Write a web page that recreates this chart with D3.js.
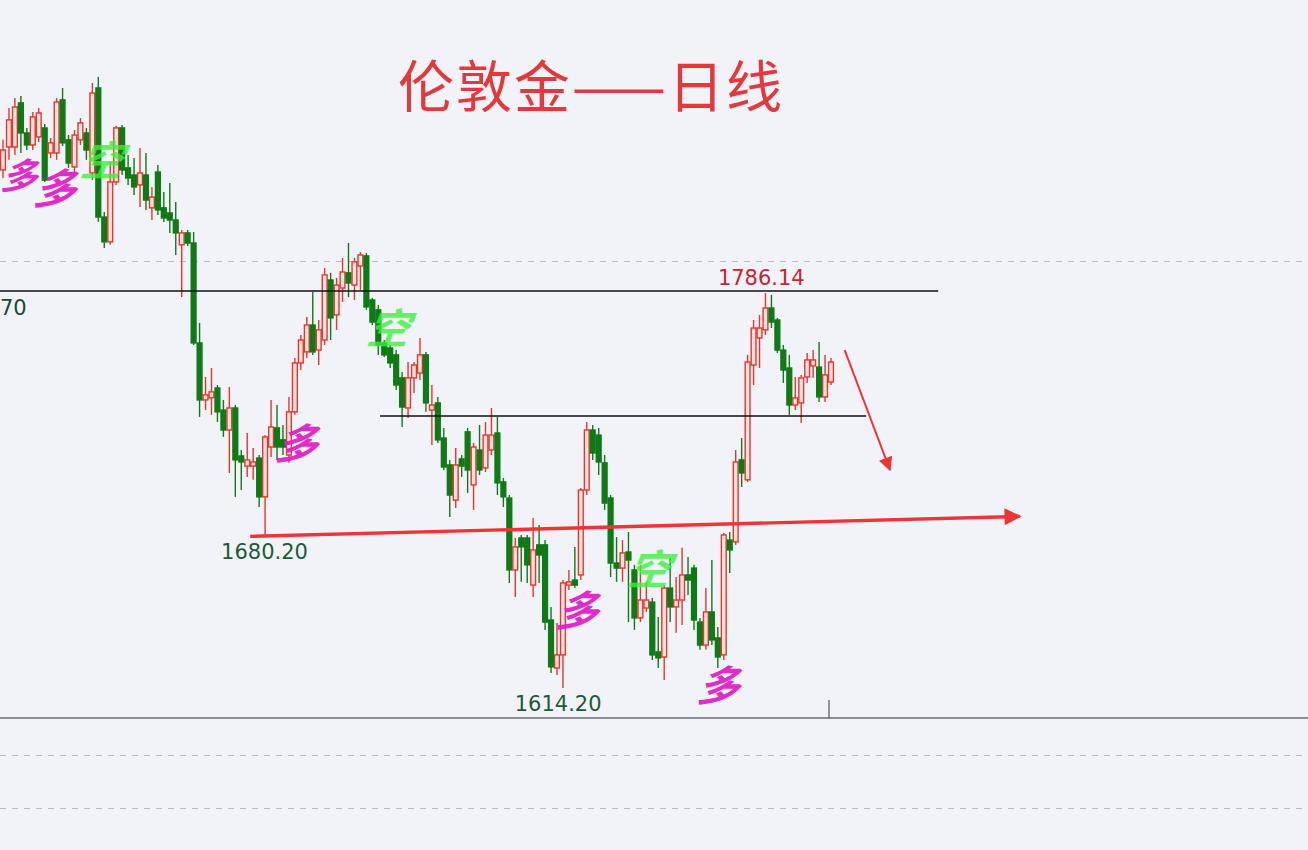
<!DOCTYPE html>
<html><head><meta charset="utf-8">
<script src="https://cdn.jsdelivr.net/npm/d3@7"></script>
<style>html,body{margin:0;padding:0;background:#f1f3f9;overflow:hidden}svg{display:block}</style>
</head><body><svg id="c" width="1308" height="850"></svg>
<script>
// ---- data (London gold daily) ----
const opens = [
1839.7,1849.7,1849.7,1868.9,1855.8,1850.6,1854.1,1858.0,1847.1,1847.1,
1870.2,1852.8,1841.0,1852.8,1855.8,1838.4,1875.4,1819.2,1808.4,1834.5,
1858.0,1840.6,1837.5,1833.2,1837.5,1823.2,1838.8,1823.2,1821.0,1817.9,
1807.1,1812.3,1807.9,1764.4,1739.6,1740.5,1744.8,1735.2,1726.5,1736.1,
1715.2,1710.8,1710.8,1714.3,1697.4,1719.1,1727.4,1722.2,1715.6,1734.4,
1755.7,1760.5,1772.2,1761.3,1765.7,1791.8,1776.6,1788.3,1794.9,1789.6,
1797.9,1802.3,1783.1,1778.8,1764.4,1762.2,1759.2,1749.2,1736.1,1749.2,
1751.3,1759.2,1735.2,1738.3,1723.0,1711.3,1696.0,1713.9,1725.7,1702.6,
1717.8,1710.0,1717.8,1725.2,1703.9,1696.9,1665.6,1679.5,1679.5,1659.0,
1676.5,1676.5,1643.8,1622.9,1628.6,1659.0,1661.2,1663.4,1700.4,1726.5,
1724.3,1712.2,1696.9,1668.6,1666.4,1673.4,1665.6,1644.7,1649.0,1651.6,
1629.9,1627.7,1657.7,1649.5,1652.5,1663.4,1666.4,1642.9,1632.9,1647.3,
1636.0,1628.6,1678.6,1677.8,1713.5,1704.8,1754.8,1766.6,1770.1,1779.6,
1774.4,1761.3,1753.5,1737.4,1738.3,1749.6,1754.4,1753.9,1740.9,1747.4];
const closes = [
1848.4,1861.5,1867.1,1855.8,1850.6,1862.8,1864.5,1835.3,1851.5,1869.3,
1851.5,1842.7,1854.9,1860.2,1848.4,1873.2,1819.2,1808.4,1834.5,1858.0,
1839.7,1836.2,1832.3,1838.4,1826.6,1827.9,1822.3,1818.8,1817.9,1812.3,
1812.3,1807.9,1764.4,1739.6,1741.8,1743.1,1734.4,1726.5,1736.1,1713.5,
1712.6,1713.5,1712.6,1697.4,1723.5,1727.8,1719.1,1719.1,1734.4,1755.7,
1765.7,1772.2,1760.5,1770.1,1794.0,1775.3,1789.6,1795.3,1790.5,1799.7,
1802.7,1780.1,1773.5,1763.5,1759.2,1755.7,1746.1,1736.5,1749.2,1754.8,
1759.2,1738.3,1737.4,1722.2,1710.4,1698.2,1711.3,1710.8,1709.1,1719.1,
1709.1,1724.3,1724.3,1703.5,1697.4,1665.6,1675.6,1675.6,1667.8,1674.3,
1672.1,1642.9,1623.4,1628.6,1659.9,1660.4,1659.0,1700.4,1726.5,1716.5,
1712.6,1694.7,1668.6,1666.4,1673.0,1669.9,1644.7,1652.5,1652.5,1628.6,
1627.3,1657.7,1649.5,1652.5,1663.4,1661.2,1643.8,1632.9,1647.3,1635.1,
1627.7,1680.8,1674.3,1712.6,1707.8,1756.1,1770.9,1770.9,1779.6,1773.5,
1761.3,1752.6,1737.4,1740.5,1749.2,1757.0,1757.0,1740.9,1750.5,1756.1];
const highs = [
1852.8,1866.7,1871.0,1871.9,1858.0,1864.9,1866.7,1859.7,1853.6,1871.0,
1875.4,1854.9,1857.1,1862.3,1858.0,1877.6,1880.2,1821.4,1843.2,1858.9,
1859.3,1846.2,1844.9,1849.3,1847.1,1832.3,1841.9,1830.1,1834.0,1825.8,
1813.6,1813.6,1812.7,1773.1,1749.6,1753.5,1746.1,1739.6,1745.2,1737.4,
1717.8,1725.2,1718.7,1715.6,1724.3,1739.6,1737.4,1728.7,1740.9,1757.9,
1767.9,1775.7,1786.6,1774.4,1797.0,1794.9,1792.7,1801.4,1807.9,1801.4,
1804.0,1803.6,1784.0,1780.9,1765.7,1763.5,1761.3,1751.8,1756.1,1756.1,
1766.6,1760.5,1746.1,1740.9,1727.4,1713.5,1718.7,1715.6,1727.4,1720.9,
1728.7,1730.0,1736.1,1732.2,1705.6,1698.2,1679.5,1680.8,1680.8,1688.2,
1685.2,1678.6,1649.5,1642.5,1661.2,1665.6,1675.6,1701.3,1730.0,1728.7,
1727.4,1715.6,1698.2,1679.9,1678.6,1682.1,1667.8,1667.8,1660.4,1653.4,
1645.1,1659.0,1670.8,1662.5,1675.2,1671.2,1667.8,1644.7,1657.7,1669.9,
1640.8,1681.7,1682.1,1717.8,1723.0,1759.2,1774.4,1776.6,1786.14,1785.3,
1775.3,1763.5,1759.2,1749.6,1750.5,1760.0,1761.3,1764.8,1759.2,1757.9];
const lows = [
1836.2,1844.1,1846.2,1847.1,1848.4,1848.4,1851.9,1834.5,1844.9,1844.1,
1850.1,1840.6,1837.5,1850.6,1844.1,1835.3,1817.1,1805.7,1807.1,1833.2,
1837.5,1833.2,1828.8,1823.6,1822.3,1817.9,1820.1,1817.1,1812.3,1802.7,
1784.4,1806.6,1763.5,1732.2,1735.2,1733.1,1730.0,1723.5,1707.8,1697.4,
1700.4,1706.1,1704.8,1693.0,1680.2,1714.8,1713.5,1715.6,1712.2,1733.1,
1752.6,1757.9,1759.2,1754.8,1763.5,1765.7,1770.1,1782.2,1784.4,1783.1,
1787.5,1778.8,1772.2,1759.2,1758.3,1753.5,1743.9,1727.8,1731.7,1742.6,
1748.3,1734.4,1720.0,1720.9,1709.1,1688.6,1692.6,1706.1,1699.1,1691.7,
1706.9,1708.2,1715.6,1698.2,1693.0,1659.9,1653.8,1660.4,1659.9,1653.8,
1659.9,1639.5,1620.7,1619.9,1614.2,1656.9,1657.7,1661.2,1698.2,1713.5,
1706.9,1691.7,1662.5,1660.4,1660.4,1642.9,1639.5,1642.9,1647.3,1626.4,
1622.9,1617.7,1642.9,1638.2,1641.6,1654.7,1639.5,1630.8,1630.8,1632.9,
1622.9,1626.4,1664.3,1676.5,1701.7,1703.9,1746.1,1753.5,1767.9,1770.9,
1760.0,1747.0,1733.1,1735.2,1729.6,1747.0,1749.2,1738.7,1738.7,1746.1];

const title = "伦敦金——日线";
const priceLabels = [
  {text:"1786.14", idx:127.3, price:1786.14, pos:"above", color:"#c3262f"},
  {text:"1680.20", idx:43.9, price:1680.20, pos:"below", color:"#1e5a36"},
  {text:"1614.20", idx:93.2, price:1614.20, pos:"below", color:"#1e5a36"}
];
const resistance = {price:1787.0, from:-1, to:157};
const support = {price:1732.6, from:63.3, to:144.9};
const trendArrow = {from:[41.5,1680.2], to:[170.7,1688.9]};
const downArrow = {from:[141.3,1761.3], to:[148.9,1709.1]};
const gridPrices = [1800];
const signals = [
  {t:"多", idx:2.9, price:1838.5, c:"long", s:36},
  {t:"多", idx:8.9, price:1833, c:"long", s:42},
  {t:"空", idx:16.7, price:1845, c:"short", s:42},
  {t:"多", idx:49.5, price:1722, c:"long", s:42},
  {t:"空", idx:64.8, price:1772, c:"short", s:42},
  {t:"多", idx:96.6, price:1649, c:"long", s:42},
  {t:"空", idx:108.6, price:1667, c:"short", s:42},
  {t:"多", idx:120.3, price:1616.5, c:"long", s:42}
];

// ---- drawing ----
const W = 1308, H = 850;
const svg = d3.select("#c");
const bg = "#f1f3f9";
svg.append("rect").attr("width", W).attr("height", H).attr("fill", bg);

const N = opens.length;
const x = d3.scaleLinear().domain([0, N - 1]).range([3, 831]);
const y = d3.scaleLinear().domain([1614.2, 1786.14]).range([688, 293]);

const RED = "#e8342a", GREEN = "#0f7a16";

// grid (dashed)
svg.selectAll("line.grid").data(gridPrices).enter().append("line")
  .attr("x1", 0).attr("x2", W).attr("y1", d => Math.round(y(d)) + 0.5).attr("y2", d => Math.round(y(d)) + 0.5)
  .attr("stroke", "#b8bcc6").attr("stroke-width", 1.2).attr("stroke-dasharray", "6,6");

// lower panel
const axisY = 718;
svg.append("line").attr("x1", 0).attr("x2", W).attr("y1", axisY).attr("y2", axisY)
  .attr("stroke", "#6a6d74").attr("stroke-width", 1.6);
svg.append("line").attr("x1", 829).attr("x2", 829).attr("y1", 700).attr("y2", axisY)
  .attr("stroke", "#555").attr("stroke-width", 1.2);
[755, 808].forEach(v => svg.append("line").attr("x1", 0).attr("x2", W).attr("y1", v + 0.5).attr("y2", v + 0.5)
  .attr("stroke", "#b8bcc6").attr("stroke-width", 1.2).attr("stroke-dasharray", "6,6"));

// candles
const data = d3.range(N).map(i => ({i, o: opens[i], h: highs[i], l: lows[i], c: closes[i]}));
const bw = 4.8;
const g = svg.append("g");
const cg = g.selectAll("g.candle").data(data).enter().append("g");
cg.append("line")
  .attr("x1", d => x(d.i)).attr("x2", d => x(d.i))
  .attr("y1", d => y(d.h)).attr("y2", d => y(d.l))
  .attr("stroke", d => d.c >= d.o ? RED : GREEN).attr("stroke-width", 1.4);
cg.append("rect")
  .attr("x", d => x(d.i) - bw / 2).attr("width", bw)
  .attr("y", d => y(Math.max(d.o, d.c)))
  .attr("height", d => Math.max(1, Math.abs(y(d.o) - y(d.c))))
  .attr("fill", d => d.c >= d.o ? "#fbe3e1" : GREEN)
  .attr("stroke", d => d.c >= d.o ? RED : GREEN).attr("stroke-width", 1.4);

// horizontal lines
svg.append("line").attr("x1", x(resistance.from)).attr("x2", x(resistance.to))
  .attr("y1", y(resistance.price)).attr("y2", y(resistance.price))
  .attr("stroke", "#111").attr("stroke-width", 1.7);
svg.append("line").attr("x1", x(support.from)).attr("x2", x(support.to))
  .attr("y1", y(support.price)).attr("y2", y(support.price))
  .attr("stroke", "#111").attr("stroke-width", 1.7);
svg.append("text").attr("x", 0).attr("y", y(resistance.price) + 24)
  .attr("font-family", "DejaVu Sans, Verdana, sans-serif").attr("font-size", 21)
  .attr("fill", "#1e4a34").text("70");

// arrows
const defs = svg.append("defs");
defs.append("marker").attr("id", "ah").attr("viewBox", "0 0 10 10").attr("refX", 9).attr("refY", 5)
  .attr("markerWidth", 7).attr("markerHeight", 5).attr("markerUnits", "strokeWidth").attr("orient", "auto")
  .append("path").attr("d", "M0,0 L10,5 L0,10 Z").attr("fill", "#ee3434");
defs.append("marker").attr("id", "ah2").attr("viewBox", "0 0 10 10").attr("refX", 9).attr("refY", 5)
  .attr("markerWidth", 9).attr("markerHeight", 7).attr("markerUnits", "strokeWidth").attr("orient", "auto")
  .append("path").attr("d", "M0,0 L10,5 L0,10 Z").attr("fill", "#ee3434");
svg.append("line")
  .attr("x1", x(trendArrow.from[0])).attr("y1", y(trendArrow.from[1]))
  .attr("x2", x(trendArrow.to[0])).attr("y2", y(trendArrow.to[1]))
  .attr("stroke", "#ee3434").attr("stroke-width", 3.4).attr("marker-end", "url(#ah)");
svg.append("line")
  .attr("x1", x(downArrow.from[0])).attr("y1", y(downArrow.from[1]))
  .attr("x2", x(downArrow.to[0])).attr("y2", y(downArrow.to[1]))
  .attr("stroke", "#ee3434").attr("stroke-width", 2).attr("marker-end", "url(#ah2)");

// price labels
svg.selectAll("text.pl").data(priceLabels).enter().append("text")
  .attr("x", d => x(d.idx)).attr("y", d => d.pos === "above" ? y(d.price) - 8 : y(d.price) + 23)
  .attr("text-anchor", "middle").attr("font-family", "DejaVu Sans, Verdana, sans-serif")
  .attr("font-size", 21).attr("fill", d => d.color).text(d => d.text);

// signal glyphs
svg.selectAll("text.sig").data(signals).enter().append("text")
  .attr("x", d => x(d.idx)).attr("y", d => y(d.price))
  .attr("text-anchor", "middle").attr("dominant-baseline", "central")
  .attr("font-family", "Noto Sans CJK SC, sans-serif").attr("font-size", d => d.s)
  .attr("font-weight", 700).attr("font-style", "italic")
  .attr("fill", d => d.c === "long" ? "#e01ec8" : "#3cf03c")
  .attr("fill-opacity", d => d.c === "long" ? 0.95 : 0.8)
  .attr("transform", d => `skewX(-8) translate(${y(d.price) * Math.tan(8 * Math.PI / 180)},0)`)
  .text(d => d.t);

// title
svg.append("text").attr("x", 591).attr("y", 107).attr("text-anchor", "middle")
  .attr("font-family", "Noto Sans CJK SC, sans-serif").attr("font-size", 56)
  .attr("letter-spacing", 2)
  .attr("fill", "#e23a3c").text(title);
</script>
</body></html>
